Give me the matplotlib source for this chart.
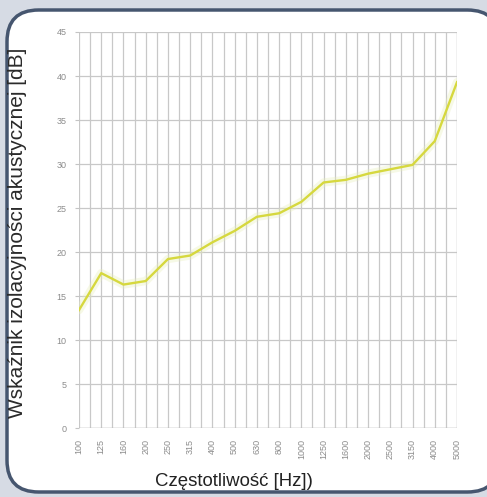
import matplotlib
matplotlib.use("Agg")
import matplotlib.pyplot as plt
from matplotlib.patches import FancyBboxPatch
import numpy as np

frequencies = ["100", "125", "160", "200", "250", "315", "400", "500", "630", "800",
               "1000", "1250", "1600", "2000", "2500", "3150", "4000", "5000"]
insulation_db = [13.4, 17.6, 16.3, 16.7, 19.2, 19.6, 21.1, 22.4, 24.0, 24.4,
                 25.7, 27.9, 28.2, 28.9, 29.4, 29.9, 32.6, 39.3]
y_ticks = [0, 5, 10, 15, 20, 25, 30, 35, 40, 45]

plt.rcParams['font.family'] = ['Liberation Sans', 'DejaVu Sans']

fig = plt.figure(figsize=(4.87, 4.97), dpi=100)
fig.patch.set_facecolor('#d6dbe4')

# rounded white panel
panel = FancyBboxPatch((7 / 487, 5 / 497), 492 / 487, 482 / 497,
                       boxstyle="round,pad=0,rounding_size=0.065",
                       transform=fig.transFigure, facecolor='white',
                       edgecolor='#46566f', linewidth=2.5, zorder=-10,
                       mutation_aspect=487 / 497)
fig.add_artist(panel)

ax = fig.add_axes([79 / 487, 69 / 497, 378 / 487, 396 / 497])
ax.set_zorder(5)
ax.set_facecolor('white')

x = np.arange(len(frequencies))
ax.set_xlim(0, len(frequencies) - 1)
ax.set_ylim(0, 45)

# grid
ax.set_xticks(x)
ax.set_xticks(np.arange(0.5, len(frequencies) - 1, 1.0), minor=True)
ax.set_yticks(y_ticks)
ax.grid(True, which='major', axis='both', color='#c8c8c8', linewidth=0.9)
ax.grid(True, which='minor', axis='x', color='#c8c8c8', linewidth=0.9)
ax.set_axisbelow(True)

for s in ax.spines.values():
    s.set_visible(False)
ax.axhline(0, color='#b8b8b8', linewidth=1.0, zorder=1)
ax.axvline(len(frequencies) - 1, color='#c8c8c8', linewidth=0.9, zorder=1)

# faint glow under the line
ax.plot(x, insulation_db, color='#e8efb8', linewidth=6, alpha=0.35, zorder=2,
        solid_capstyle='round')
ax.plot(x, insulation_db, color='#d6d83e', linewidth=1.7, zorder=3)

ax.set_xticklabels(frequencies, rotation=90, fontsize=6.5, color='#8c8c8c')
ax.set_yticklabels([str(v) for v in y_ticks], fontsize=6.5, color='#8c8c8c')
ax.tick_params(axis='x', which='both', length=0, pad=8)
ax.tick_params(axis='y', which='major', length=3, color='#c4c4c4', pad=6)
ax.tick_params(axis='y', which='minor', length=0)

fig.text(234 / 487, 1 - 482 / 497, "Częstotliwość [Hz])", ha='center', va='center',
         fontsize=13.4, color='#222222')
fig.text(18 / 487, 1 - 233 / 497, "Wskaźnik izolacyjności akustycznej [dB]",
         ha='center', va='center', rotation=90, fontsize=15, color='#2a2a2a')

fig.savefig("out.png", dpi=100, facecolor=fig.get_facecolor())
